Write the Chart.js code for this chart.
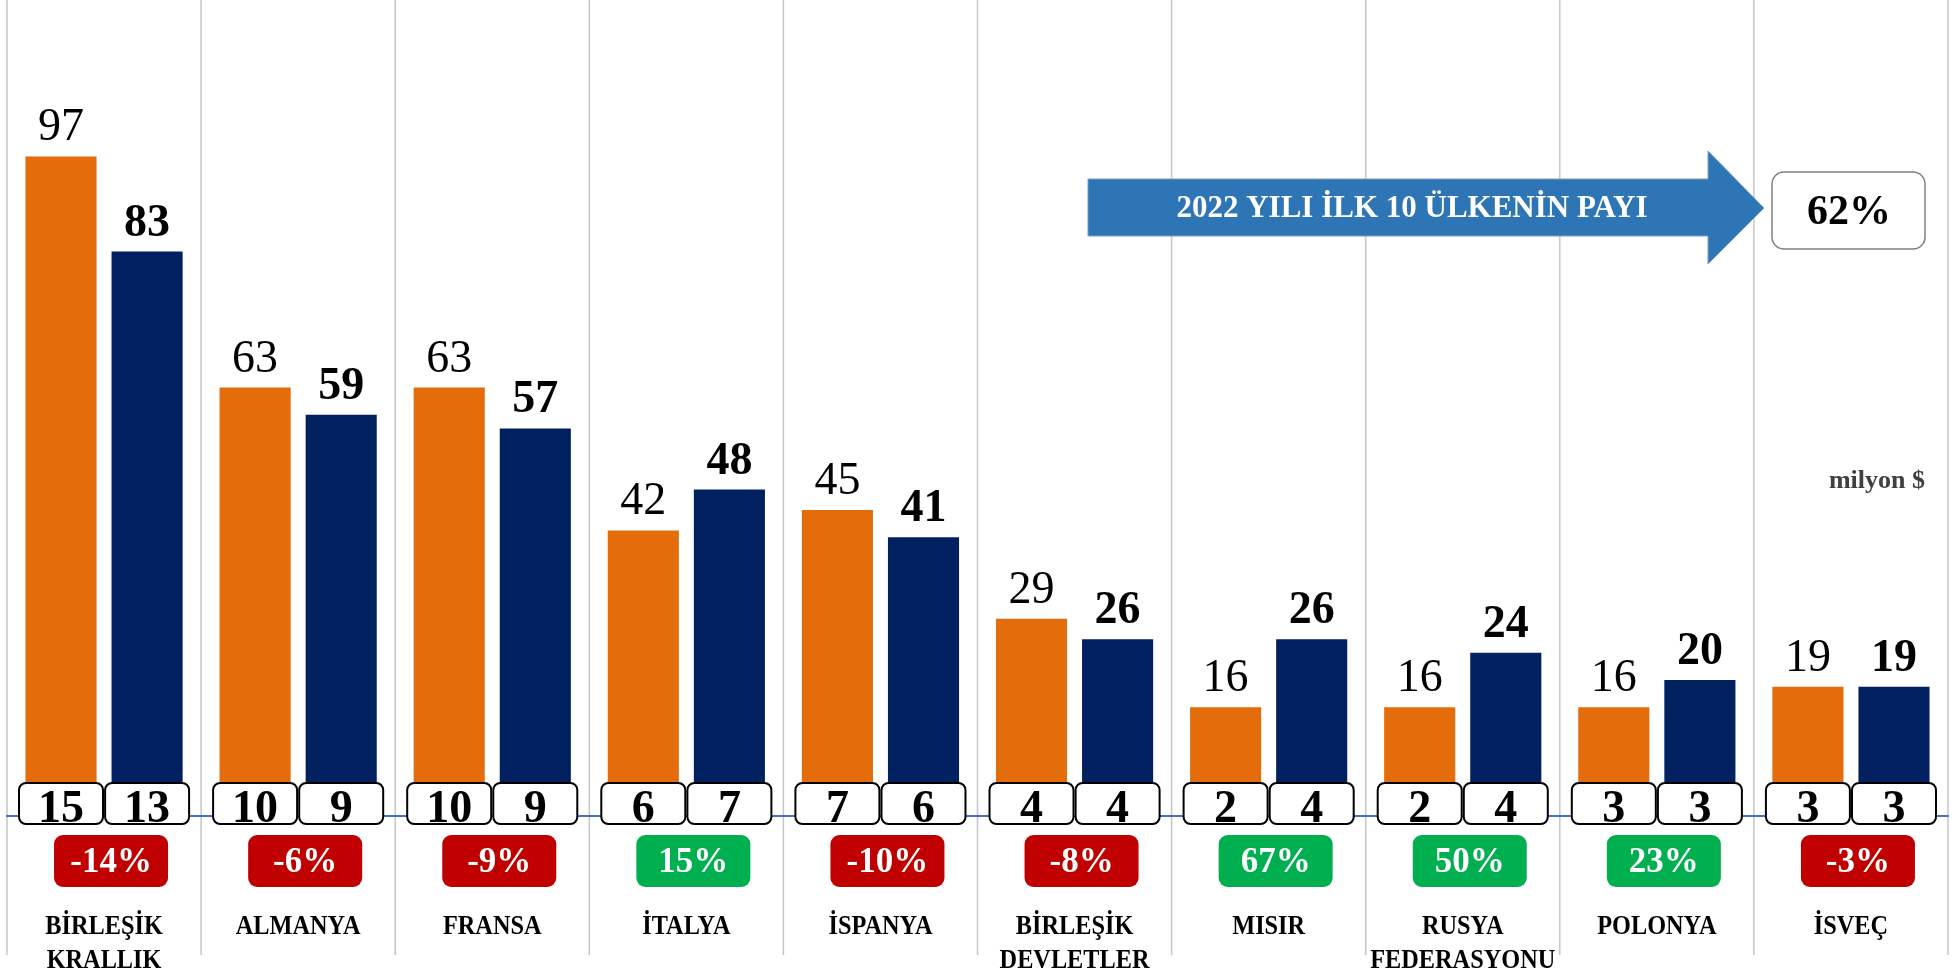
<!DOCTYPE html>
<html>
<head>
<meta charset="utf-8">
<script src="https://cdn.jsdelivr.net/npm/chart.js@4.4.0/dist/chart.umd.min.js"></script>
<style>
  html, body { margin: 0; padding: 0; background: #fff; }
  #wrap { width: 1958px; height: 972px; }
</style>
</head>
<body>
<div id="wrap"><canvas id="chart" width="1958" height="972"></canvas></div>
<script>
// values in milyon $, orange = 2021, navy = 2022
const countries = [['BİRLEŞİK', 'KRALLIK'], 'ALMANYA', 'FRANSA', 'İTALYA', 'İSPANYA',
                   ['BİRLEŞİK', 'DEVLETLER'], 'MISIR', ['RUSYA', 'FEDERASYONU'], 'POLONYA', 'İSVEÇ'];
const values2021 = [97, 63, 63, 42, 45, 29, 16, 16, 16, 19];
const values2022 = [83, 59, 57, 48, 41, 26, 26, 24, 20, 19];
const share2021 = [15, 10, 10, 6, 7, 4, 2, 2, 3, 3];
const share2022 = [13, 9, 9, 7, 6, 4, 4, 4, 3, 3];
const changePct = [-14, -6, -9, 15, -10, -8, 67, 50, 23, -3];
const topTenShare = '62%';
const arrowText = '2022 YILI İLK 10 ÜLKENİN PAYI';
const unitText = 'milyon $';

const FONT = "'Liberation Serif', 'DejaVu Serif', serif";

const decorPlugin = {
    id: 'decor',
    beforeDraw(chart) {
        // vertical separators between countries
        const ctx = chart.ctx, x = chart.scales.x;
        const step = x.getPixelForValue(1) - x.getPixelForValue(0);
        ctx.save();
        ctx.strokeStyle = '#c6c6c6';
        ctx.lineWidth = 1.5;
        for (let i = 0; i <= countries.length; i++) {
            const px = x.getPixelForValue(0) - step / 2 + i * step;
            ctx.beginPath();
            ctx.moveTo(px, 0);
            ctx.lineTo(px, 955);
            ctx.stroke();
        }
        ctx.restore();
    },
    afterDatasetsDraw(chart) {
        const ctx = chart.ctx, x = chart.scales.x;
        const base = chart.chartArea.bottom;
        const vals = [values2021, values2022];
        const shares = [share2021, share2022];
        ctx.save();
        ctx.textAlign = 'center';

        [0, 1].forEach(function(d) {
            chart.getDatasetMeta(d).data.forEach(function(bar, i) {
                // value above the bar
                ctx.fillStyle = '#000';
                ctx.textBaseline = 'alphabetic';
                ctx.font = (d === 1 ? 'bold ' : '') + '46px ' + FONT;
                ctx.fillText(vals[d][i], bar.x, bar.y - 16);

                // share box on the base line
                ctx.beginPath();
                ctx.roundRect(bar.x - 42, base - 33, 84, 41, 7);
                ctx.fillStyle = '#fff';
                ctx.fill();
                ctx.lineWidth = 2;
                ctx.strokeStyle = '#000';
                ctx.stroke();
                ctx.fillStyle = '#000';
                ctx.font = 'bold 46px ' + FONT;
                ctx.fillText(shares[d][i], bar.x, base + 6);
            });
        });

        // change badges and country names
        changePct.forEach(function(c, i) {
            const cx = x.getPixelForValue(i);
            ctx.beginPath();
            ctx.roundRect(cx + 7 - 57, base + 19, 114, 52, 9);
            ctx.fillStyle = c < 0 ? '#C00000' : '#00B050';
            ctx.fill();
            ctx.fillStyle = '#fff';
            ctx.font = 'bold 35px ' + FONT;
            ctx.textBaseline = 'middle';
            ctx.fillText(c + '%', cx + 7, base + 47);

            const name = [].concat(countries[i]);
            ctx.fillStyle = '#000';
            ctx.font = 'bold 27px ' + FONT;
            name.forEach(function(line, j) {
                ctx.save();
                ctx.translate(cx, base + 111 + j * 34);
                ctx.scale(0.9, 1); // the original type is a little condensed
                ctx.fillText(line, 0, 0);
                ctx.restore();
            });
        });

        // arrow with the top 10 share
        ctx.beginPath();
        ctx.moveTo(1088, 179);
        ctx.lineTo(1708, 179);
        ctx.lineTo(1708, 151);
        ctx.lineTo(1764, 208);
        ctx.lineTo(1708, 264);
        ctx.lineTo(1708, 236);
        ctx.lineTo(1088, 236);
        ctx.closePath();
        ctx.fillStyle = '#2E75B6';
        ctx.fill();
        ctx.strokeStyle = '#7f9cc0';
        ctx.lineWidth = 1;
        ctx.stroke();
        ctx.fillStyle = '#fff';
        ctx.font = 'bold 31px ' + FONT;
        ctx.textBaseline = 'middle';
        ctx.fillText(arrowText, 1412, 209);

        ctx.beginPath();
        ctx.roundRect(1772, 172, 153, 77, 12);
        ctx.fillStyle = '#fff';
        ctx.fill();
        ctx.strokeStyle = '#808080';
        ctx.lineWidth = 1.5;
        ctx.stroke();
        ctx.fillStyle = '#000';
        ctx.font = 'bold 42px ' + FONT;
        ctx.fillText(topTenShare, 1849, 213);

        ctx.textAlign = 'right';
        ctx.textBaseline = 'alphabetic';
        ctx.fillStyle = '#404040';
        ctx.font = 'bold 26px ' + FONT;
        ctx.fillText(unitText, 1925, 488);
        ctx.restore();
    }
};

new Chart(document.getElementById('chart'), {
    type: 'bar',
    data: {
        labels: countries,
        datasets: [{
            label: '2021',
            data: values2021,
            backgroundColor: '#E46C0A',
            categoryPercentage: 0.887,
            barPercentage: 0.826
        }, {
            label: '2022',
            data: values2022,
            backgroundColor: '#002060',
            categoryPercentage: 0.887,
            barPercentage: 0.826
        }]
    },
    options: {
        responsive: false,
        animation: false,
        layout: { padding: { left: 7, right: 10, top: 0, bottom: 156 } },
        plugins: {
            legend: { display: false },
            tooltip: { enabled: false }
        },
        scales: {
            x: {
                grid: { display: false, drawTicks: false },
                border: { display: true, color: '#4472C4', width: 2 },
                ticks: { display: false }
            },
            y: { display: false, min: 0, max: 120 }
        }
    },
    plugins: [decorPlugin]
});
</script>
</body>
</html>
